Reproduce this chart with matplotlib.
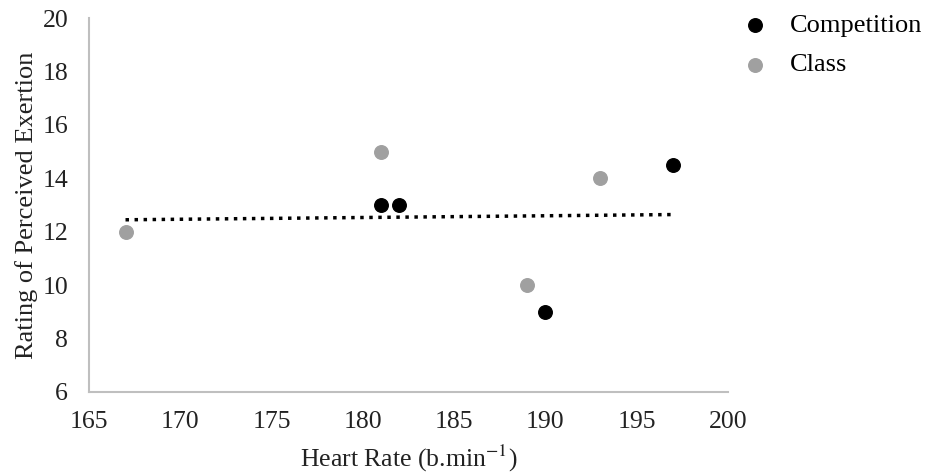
import matplotlib.pyplot as plt
import numpy as np

plt.rcParams['font.family'] = ['Liberation Serif', 'DejaVu Serif']
plt.rcParams['mathtext.fontset'] = 'stix'

# Heart rate vs RPE
comp_hr = [181, 182, 190, 197]
comp_rpe = [13, 13, 9, 14.5]
class_hr = [167, 181, 189, 193]
class_rpe = [12, 15, 10, 14]

x_ticks = [165, 170, 175, 180, 185, 190, 195, 200]
y_ticks = [6, 8, 10, 12, 14, 16, 18, 20]

fig = plt.figure(figsize=(9.42, 4.75), dpi=100)
ax = fig.add_axes([0.0945, 0.175, 0.678, 0.787])

ax.scatter(comp_hr, comp_rpe, s=95, color='black', label='Competition', zorder=3)
ax.scatter(class_hr, class_rpe, s=95, color='#a0a0a0', label='Class', zorder=3)

# linear trendline over all points
all_hr = np.array(comp_hr + class_hr)
all_rpe = np.array(comp_rpe + class_rpe)
k, b = np.polyfit(all_hr, all_rpe, 1)
xs = np.array([min(all_hr), max(all_hr)])
ax.plot(xs, k * xs + b, color='black', lw=2.5, linestyle=(0, (1, 1.6)), zorder=2)

ax.set_xlim(165, 200)
ax.set_ylim(6, 20)
ax.set_xticks(x_ticks)
ax.set_yticks(y_ticks)
ax.tick_params(length=0, labelsize=18.5, colors='#222222')
ax.tick_params(axis='x', pad=14)
ax.tick_params(axis='y', pad=15)
for s in ['top', 'right']:
    ax.spines[s].set_visible(False)
for s in ['left', 'bottom']:
    ax.spines[s].set_color('#bfbfbf')
    ax.spines[s].set_linewidth(1.5)

ax.set_xlabel('Heart Rate (b.min$^{-1}$)', fontsize=18.5, color='#222222', labelpad=7)
ax.set_ylabel('Rating of Perceived Exertion', fontsize=19, color='#222222', labelpad=3)

leg = ax.legend(loc='upper left', bbox_to_anchor=(1.005, 1.04), frameon=False,
                fontsize=19, handlelength=1.0, handletextpad=0.85, labelspacing=0.6,
                borderaxespad=0)

fig.savefig('out.png', dpi=100)
